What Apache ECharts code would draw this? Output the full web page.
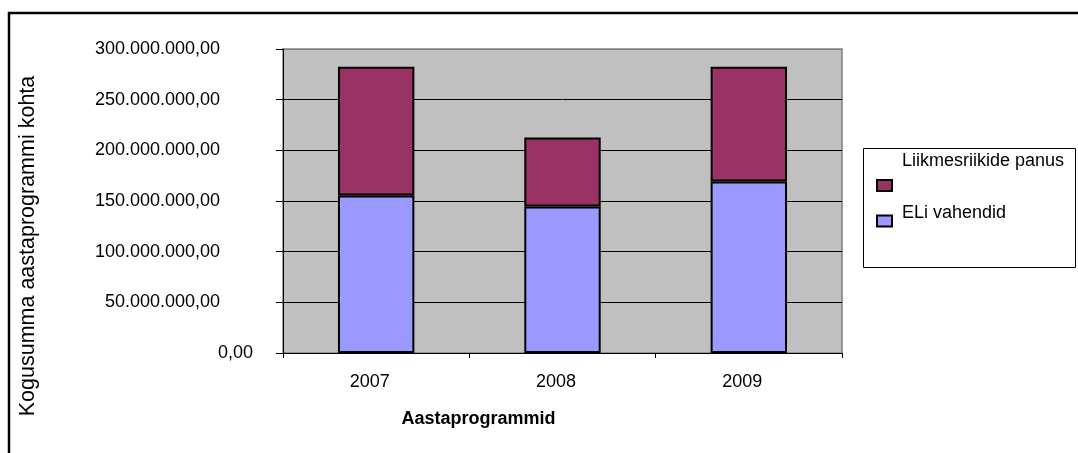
<!DOCTYPE html>
<html>
<head>
<meta charset="utf-8">
<script src="https://cdn.jsdelivr.net/npm/echarts@6/dist/echarts.min.js"></script>
<style>
html,body{margin:0;padding:0;background:#fff;}
#c{width:1078px;height:453px;}
</style>
</head>
<body>
<div id="c"></div>
<script>
const categories = ['2007', '2008', '2009'];
const eliVahendid = [155400000, 144600000, 169200000];
const liikmesriikidePanus = [127200000, 68000000, 113400000];
const seriesNames = ['ELi vahendid', 'Liikmesriikide panus'];
const yAxisTitle = 'Kogusumma aastaprogrammi kohta';
const xAxisTitle = 'Aastaprogrammid';

const FONT = 'Liberation Sans, Arial, sans-serif';

function fmt(v) {
  const s = Math.round(v).toString().replace(/\B(?=(\d{3})+(?!\d))/g, '.');
  return s + ',00';
}

const chart = echarts.init(document.getElementById('c'));
chart.setOption({
  animation: false,
  backgroundColor: '#fff',
  textStyle: { fontFamily: FONT },
  graphic: [
    {
      type: 'rect', z: -10, silent: true,
      shape: { x: 9, y: 13, width: 1200, height: 600 },
      style: { fill: '#fff', stroke: '#000', lineWidth: 2.5 }
    },
    {
      type: 'rect', z: -5, silent: true,
      shape: { x: 863.5, y: 148.5, width: 212, height: 119 },
      style: { fill: '#fff', stroke: '#000', lineWidth: 1 }
    }
  ],
  grid: {
    left: 283, right: 236, top: 49, bottom: 100,
    show: true, backgroundColor: '#C0C0C0', borderColor: '#808080', borderWidth: 1.5,
    containLabel: false
  },
  legend: [
    {
      data: [seriesNames[1]], left: 876, top: 149.5, padding: 0,
      itemWidth: 15, itemHeight: 11, icon: 'rect', selectedMode: false,
      formatter: n => ' ' + n + '\n\n',
      itemStyle: { borderColor: '#000', borderWidth: 2 },
      textStyle: { fontSize: 18, lineHeight: 24, color: '#000', fontFamily: FONT }
    },
    {
      data: [seriesNames[0]], left: 876, top: 204.5, padding: 0,
      itemWidth: 15, itemHeight: 11, icon: 'rect', selectedMode: false,
      formatter: n => ' ' + n + '\n',
      itemStyle: { borderColor: '#000', borderWidth: 2 },
      textStyle: { fontSize: 18, lineHeight: 15, color: '#000', fontFamily: FONT }
    }
  ],
  xAxis: {
    type: 'category', data: categories,
    name: xAxisTitle, nameLocation: 'middle', nameGap: 57,
    nameTextStyle: { fontSize: 18, fontWeight: 'bold', color: '#000', fontFamily: FONT, padding: [0, 168, 0, 0] },
    axisLine: { lineStyle: { color: '#000', width: 1 } },
    axisTick: { show: true, length: 5, lineStyle: { color: '#000' } },
    axisLabel: { fontSize: 18, color: '#000', margin: 20, padding: [0, 13, 0, 0], fontFamily: FONT },
    splitLine: { show: false }
  },
  yAxis: {
    type: 'value', min: 0, max: 300000000, interval: 50000000,
    name: yAxisTitle, nameLocation: 'middle', nameGap: 244, nameRotate: 90,
    nameTextStyle: { fontSize: 21.5, color: '#000', fontFamily: FONT, padding: [0, 90, 0, 0] },
    axisLine: { show: true, lineStyle: { color: '#000', width: 1 } },
    axisTick: { show: true, length: 7, lineStyle: { color: '#000' } },
    axisLabel: {
      margin: 30,
      formatter: v => v === 0 ? '{z|0,00}' : '{a|' + fmt(v) + '}',
      rich: {
        a: { fontSize: 18, color: '#000', fontFamily: FONT, padding: [0, 33, 0, 0] },
        z: { fontSize: 18, color: '#000', fontFamily: FONT }
      }
    },
    splitLine: { show: true, lineStyle: { color: ['#000', '#000', '#000', '#000', '#000', '#000', '#808080'], width: 1 } }
  },
  series: [
    {
      name: seriesNames[0], type: 'bar', stack: 'total', data: eliVahendid,
      barWidth: '41%',
      itemStyle: { color: '#9999FF', borderColor: '#000', borderWidth: 2 }
    },
    {
      name: seriesNames[1], type: 'bar', stack: 'total', data: liikmesriikidePanus,
      barWidth: '41%',
      itemStyle: { color: '#993366', borderColor: '#000', borderWidth: 2 }
    }
  ]
});
</script>
</body>
</html>
